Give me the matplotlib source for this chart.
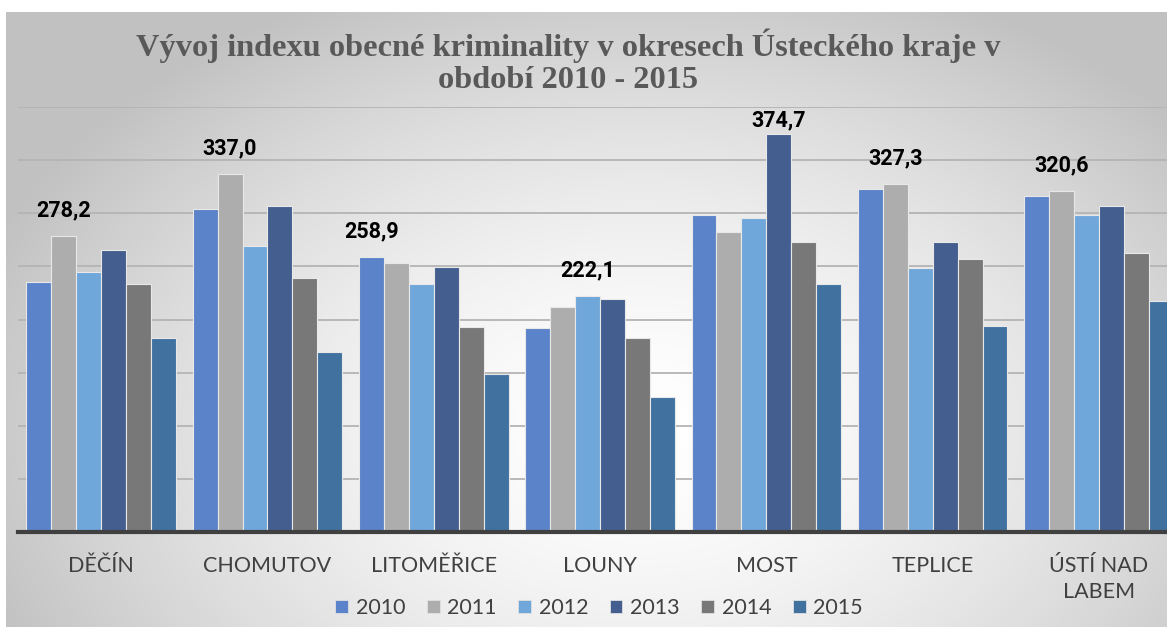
import numpy as np
import matplotlib
matplotlib.use('Agg')
import matplotlib.pyplot as plt
from matplotlib.patches import Patch

# Data
districts = ['DĚČÍN', 'CHOMUTOV', 'LITOMĚŘICE', 'LOUNY', 'MOST', 'TEPLICE', 'ÚSTÍ NAD\nLABEM']
years = ['2010', '2011', '2012', '2013', '2014', '2015']
v2010 = [235.0, 304.3, 258.9, 192.3, 298.3, 322.5, 316.5]
v2011 = [278.2, 337.0, 253.4, 212.0, 282.0, 327.3, 320.6]
v2012 = [244.4, 269.4, 233.4, 222.1, 295.5, 248.7, 298.3]
v2013 = [265.4, 306.5, 249.4, 219.0, 374.7, 272.9, 306.5]
v2014 = [233.1, 239.0, 192.9, 182.3, 273.2, 257.2, 262.3]
v2015 = [182.3, 169.1, 149.0, 126.7, 233.4, 194.1, 217.1]
series = [v2010, v2011, v2012, v2013, v2014, v2015]
colors = ['#5b83c9', '#adadad', '#6fa7da', '#435e8f', '#787878', '#41719f']

W, H = 1167, 627
fig = plt.figure(figsize=(W / 100, H / 100), dpi=100)
fig.patch.set_facecolor('white')

# gradient background
bg = fig.add_axes([6 / W, 0, 1 - 6 / W, (H - 12) / H])
bg.set_axis_off()
yy, xx = np.mgrid[12:H, 6:W]
d = np.sqrt(((xx - 640) / 700.0) ** 2 + ((yy - 430) / 480.0) ** 2)
d = np.clip(d, 0, 1)
val = 1.0 - 0.24 * d ** 1.6
img = np.dstack([val, val, val])
bg.imshow(img, aspect='auto', extent=[0, 1, 0, 1], interpolation='bilinear')
bg.set_xlim(0, 1)
bg.set_ylim(0, 1)

# main axes
ax = fig.add_axes([18 / W, 95 / H, (W - 18) / W, 425 / H])
ax.patch.set_alpha(0)
ax.set_ylim(0, 400)
ax.set_xlim(-0.5, -0.5 + (W - 18) / 166.3)

x = np.arange(len(districts))
bw = 0.15
for j, (vals, c) in enumerate(zip(series, colors)):
    ax.bar(x + (j - 2.5) * bw, vals, bw, color=c, edgecolor='#e8e8e8',
           linewidth=0.8, zorder=3, label=years[j])

# labels on the highest bar in each district
data = np.array(series)
for i in range(len(districts)):
    j = int(np.argmax(data[:, i]))
    v = data[j, i]
    ax.text(x[i] + (j - 2.5) * bw, min(v + 14, 377), f'{v:.1f}'.replace('.', ','),
            ha='center', va='bottom', fontsize=15.5, fontweight='bold',
            family='Roboto', color='black', zorder=5)

ax.set_yticks(np.arange(50, 401, 50))
ax.yaxis.grid(True, color='#b4b4b4', linewidth=1.3, zorder=0)
ax.set_axisbelow(True)
ax.tick_params(axis='y', left=False, labelleft=False)
for s in ['top', 'right', 'left']:
    ax.spines[s].set_visible(False)
ax.spines['bottom'].set_color('#404040')
ax.spines['bottom'].set_linewidth(3)
ax.spines['bottom'].set_zorder(4)

ax.set_xticks(x)
ax.set_xticklabels(districts, fontsize=15.5, family='Lato', color='#404040',
                   va='top', linespacing=1.4)
ax.tick_params(axis='x', length=0, pad=17)

fig.text(568 / W, 1 - 62 / H,
         'Vývoj indexu obecné kriminality v okresech Ústeckého kraje v\nobdobí 2010 - 2015',
         ha='center', va='center', fontsize=23.3, fontweight='bold',
         family='Liberation Serif', color='#595959', linespacing=1.15)

handles = [Patch(facecolor=c, edgecolor='#e0e0e0', linewidth=0.6) for c in colors]
fig.legend(handles, years, loc='center', bbox_to_anchor=(599 / W, 1 - 608 / H),
           ncol=6, frameon=False, handlelength=0.6, handleheight=0.6,
           handletextpad=0.35, columnspacing=1.0,
           prop={'family': 'Lato', 'size': 15.5})
for t in fig.legends[0].get_texts():
    t.set_color('#404040')

fig.savefig('out.png', dpi=100)
